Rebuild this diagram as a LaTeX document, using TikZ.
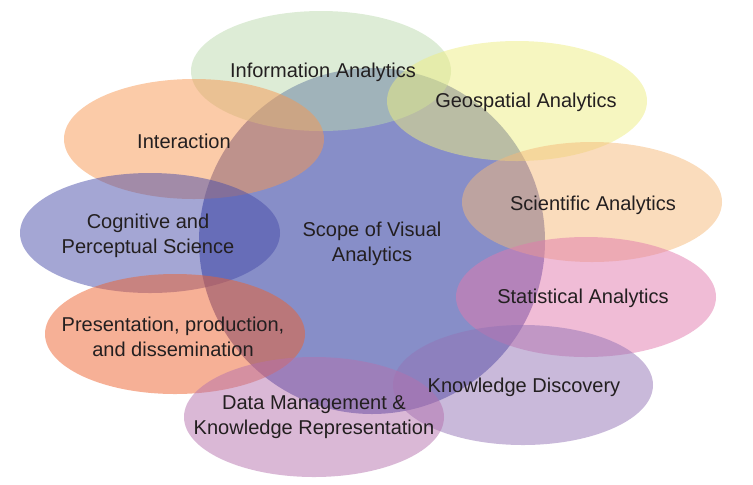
\documentclass[tikz,border=0pt]{standalone}
\usepackage{fontspec}
\setmainfont{Liberation Sans}
\usepackage{tikz}
\usetikzlibrary{positioning}
\definecolor{scopeblue}{RGB}{15,29,145}
\definecolor{infogreen}{RGB}{187,217,173}
\definecolor{geoyellow}{RGB}{237,237,129}
\definecolor{interpeach}{RGB}{247,151,81}
\definecolor{scilight}{RGB}{245,185,121}
\definecolor{cogblue}{RGB}{73,77,169}
\definecolor{statpink}{RGB}{225,121,173}
\definecolor{pressalmon}{RGB}{237,97,45}
\definecolor{kdlavender}{RGB}{147,115,181}
\definecolor{dmmauve}{RGB}{181,113,173}
\definecolor{textdark}{RGB}{35,31,32}

\begin{document}
\begin{tikzpicture}[x=0.02cm,y=-0.02cm,
    area/.style={fill opacity=0.5},
    label/.style={align=center,text=textdark,font=\fontsize{11.4}{14}\selectfont}]
        \useasboundingbox (0,0) rectangle (753,484);
        % Define centres
        \coordinate (S) at (372,241);
        \coordinate (IA) at (321,71);
        \coordinate (GA) at (517,101);
        \coordinate (IN) at (194,139);
        \coordinate (SA) at (592,202);
        \coordinate (CP) at (150,233);
        \coordinate (ST) at (586,297);
        \coordinate (PR) at (175,334);
        \coordinate (KD) at (523,385);
        \coordinate (DM) at (314,417);
        % Scope circle
        \fill[area,scopeblue] (S) circle (173);
        % Surrounding areas
        \fill[area,infogreen] (IA) ellipse [x radius=130,y radius=60];
        \fill[area,geoyellow] (GA) ellipse [x radius=130,y radius=60];
        \fill[area,interpeach] (IN) ellipse [x radius=130,y radius=60];
        \fill[area,scilight] (SA) ellipse [x radius=130,y radius=60];
        \fill[area,cogblue] (CP) ellipse [x radius=130,y radius=60];
        \fill[area,statpink] (ST) ellipse [x radius=130,y radius=60];
        \fill[area,pressalmon] (PR) ellipse [x radius=130,y radius=60];
        \fill[area,kdlavender] (KD) ellipse [x radius=130,y radius=60];
        \fill[area,dmmauve] (DM) ellipse [x radius=130,y radius=60];
        % Labels
        \node[label] (scope) at (372,244) {Scope of Visual\\Analytics};
        \node[label] (info) at (323,72) {Information Analytics};
        \node[label] (geo) at (526,102) {Geospatial Analytics};
        \node[label] (inter) at (184,141) {Interaction};
        \node[label] (sci) at (593,205) {Scientific Analytics};
        \node[label] (cog) at (148,236) {Cognitive and\\Perceptual Science};
        \node[label] (stat) at (583,298) {Statistical Analytics};
        \node[label] (pres) at (173,337) {Presentation, production,\\and dissemination};
        \node[label] (know) at (524,387) {Knowledge Discovery};
        \node[label] (data) at (314,417) {Data Management \&\\Knowledge Representation};
      \end{tikzpicture}
\end{document}
